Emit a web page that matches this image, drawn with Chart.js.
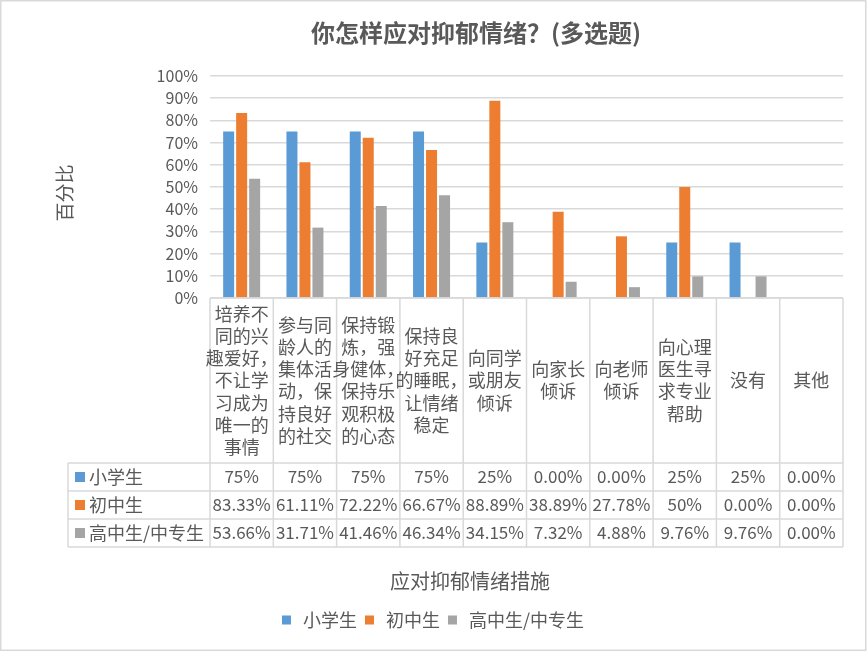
<!DOCTYPE html>
<html>
<head>
<meta charset="utf-8">
<script src="https://cdn.jsdelivr.net/npm/chart.js@4"></script>
<style>
html,body{margin:0;padding:0;background:#fff;}
#wrap{width:867px;height:652px;position:relative;}
</style>
</head>
<body>
<div id="wrap"><canvas id="c" width="867" height="652"></canvas></div>
<script>
// ---- data ----
const categories = [
  ["培养不","同的兴","趣爱好，","不让学","习成为","唯一的","事情"],
  ["参与同","龄人的","集体活","动，保","持良好","的社交"],
  ["保持锻","炼，强","身健体，","保持乐","观积极","的心态"],
  ["保持良","好充足","的睡眠，","让情绪","稳定"],
  ["向同学","或朋友","倾诉"],
  ["向家长","倾诉"],
  ["向老师","倾诉"],
  ["向心理","医生寻","求专业","帮助"],
  ["没有"],
  ["其他"]
];
const seriesNames = ["小学生", "初中生", "高中生/中专生"];
const primaryVals = [75, 75, 75, 75, 25, 0, 0, 25, 25, 0];
const juniorVals  = [83.33, 61.11, 72.22, 66.67, 88.89, 38.89, 27.78, 50, 0, 0];
const seniorVals  = [53.66, 31.71, 41.46, 46.34, 34.15, 7.32, 4.88, 9.76, 9.76, 0];
const yTicks = [0, 10, 20, 30, 40, 50, 60, 70, 80, 90, 100];
const chartTitle = "你怎样应对抑郁情绪？(多选题)";
const xTitle = "应对抑郁情绪措施";
const yTitle = "百分比";

const colors = ["#5B9BD5", "#ED7D31", "#A5A5A5"];
const FONT = "'Noto Sans CJK SC', 'Noto Sans', sans-serif";
const TXT = "#595959";
const GRID = "#d9d9d9";

function fmt(v){
  if (v === 0) return "0.00%";
  if (Number.isInteger(v)) return v + "%";
  return v.toFixed(2) + "%";
}

const tablePlugin = {
  id: 'tablePlugin',
  afterDraw(chart){
    const ctx = chart.ctx;
    const a = chart.chartArea;
    const xs = chart.scales.x;
    const n = categories.length;
    const w = (a.right - a.left) / n;
    const tableTop = a.bottom;
    const headerBottom = 463;
    const rowH = 28;
    const nRows = chart.data.datasets.length;
    const tableBottom = headerBottom + rowH * nRows;
    const keyLeft = 68;
    ctx.save();
    // grid lines of table
    ctx.strokeStyle = GRID;
    ctx.lineWidth = 1.5;
    ctx.beginPath();
    ctx.moveTo(a.left, tableTop); ctx.lineTo(a.right, tableTop);
    for (let k = 0; k <= nRows; k++){
      const y = headerBottom + k * rowH;
      ctx.moveTo(keyLeft, y); ctx.lineTo(a.right, y);
    }
    for (let i = 0; i <= n; i++){
      const x = a.left + i * w;
      ctx.moveTo(x, tableTop); ctx.lineTo(x, tableBottom);
    }
    ctx.moveTo(keyLeft, headerBottom); ctx.lineTo(keyLeft, tableBottom);
    ctx.stroke();

    // header labels
    ctx.fillStyle = TXT;
    ctx.textAlign = 'center';
    ctx.textBaseline = 'middle';
    ctx.font = "18px " + FONT;
    const lh = 22.2;
    const hc = (tableTop + headerBottom) / 2;
    for (let i = 0; i < n; i++){
      const cx = xs.getPixelForValue(i);
      const lines = categories[i];
      const y0 = hc - (lines.length - 1) * lh / 2;
      lines.forEach((t, j) => ctx.fillText(t, cx, y0 + j * lh));
    }

    // rows
    chart.data.datasets.forEach((ds, r) => {
      const cy = headerBottom + rowH * r + rowH / 2;
      ctx.fillStyle = ds.backgroundColor;
      ctx.fillRect(75, cy - 5, 10, 10);
      ctx.fillStyle = TXT;
      ctx.textAlign = 'left';
      ctx.font = "18px " + FONT;
      ctx.fillText(ds.label, 89, cy);
      ctx.textAlign = 'center';
      ctx.font = "17px " + FONT;
      ds.data.forEach((v, i) => {
        ctx.fillText(fmt(v), xs.getPixelForValue(i), cy);
      });
    });

    // chart title
    ctx.fillStyle = TXT;
    ctx.textAlign = 'center';
    ctx.font = "bold 24px " + FONT;
    ctx.fillText(chartTitle, 476, 33);

    // x axis title
    ctx.font = "20px " + FONT;
    ctx.fillText(xTitle, 470, 581);

    // y axis title
    ctx.save();
    ctx.translate(65, 193);
    ctx.rotate(-Math.PI / 2);
    ctx.font = "19px " + FONT;
    ctx.fillText(yTitle, 0, 0);
    ctx.restore();

    // legend
    ctx.font = "18px " + FONT;
    const sq = 9, gap1 = 12, gap2 = 8;
    let total = 0;
    const widths = chart.data.datasets.map(ds => ctx.measureText(ds.label).width);
    widths.forEach((tw, i) => { total += sq + gap1 + tw + (i < widths.length - 1 ? gap2 : 0); });
    let x = 433 - total / 2;
    const ly = 620;
    ctx.textAlign = 'left';
    chart.data.datasets.forEach((ds, i) => {
      ctx.fillStyle = ds.backgroundColor;
      ctx.fillRect(x, ly - sq / 2, sq, sq);
      x += sq + gap1;
      ctx.fillStyle = TXT;
      ctx.fillText(ds.label, x, ly);
      x += widths[i] + gap2;
    });

    // outer border
    ctx.strokeStyle = GRID;
    ctx.lineWidth = 1.5;
    ctx.strokeRect(0.75, 0.75, 865, 649.5);
    ctx.restore();
  }
};

Chart.defaults.font.family = FONT;
Chart.defaults.color = TXT;

new Chart(document.getElementById('c'), {
  type: 'bar',
  data: {
    labels: categories,
    datasets: [
      { label: seriesNames[0], data: primaryVals, backgroundColor: colors[0] },
      { label: seriesNames[1], data: juniorVals, backgroundColor: colors[1] },
      { label: seriesNames[2], data: seniorVals, backgroundColor: colors[2] }
    ]
  },
  options: {
    responsive: false,
    animation: false,
    layout: { padding: { top: 76, right: 24, bottom: 354, left: 0 } },
    datasets: { bar: { categoryPercentage: 0.616, barPercentage: 0.846 } },
    plugins: { legend: { display: false }, title: { display: false }, tooltip: { enabled: false } },
    scales: {
      x: { display: false, offset: true },
      y: {
        min: 0, max: 100,
        afterFit(scale){ scale.width = 210; },
        afterBuildTicks(scale){ scale.ticks = yTicks.map(v => ({ value: v })); },
        border: { display: false },
        grid: { color: GRID, lineWidth: 1.5, drawTicks: false },
        ticks: { padding: 12, color: TXT, font: { size: 16 }, callback: v => v + '%' }
      }
    }
  },
  plugins: [tablePlugin]
});
</script>
</body>
</html>
